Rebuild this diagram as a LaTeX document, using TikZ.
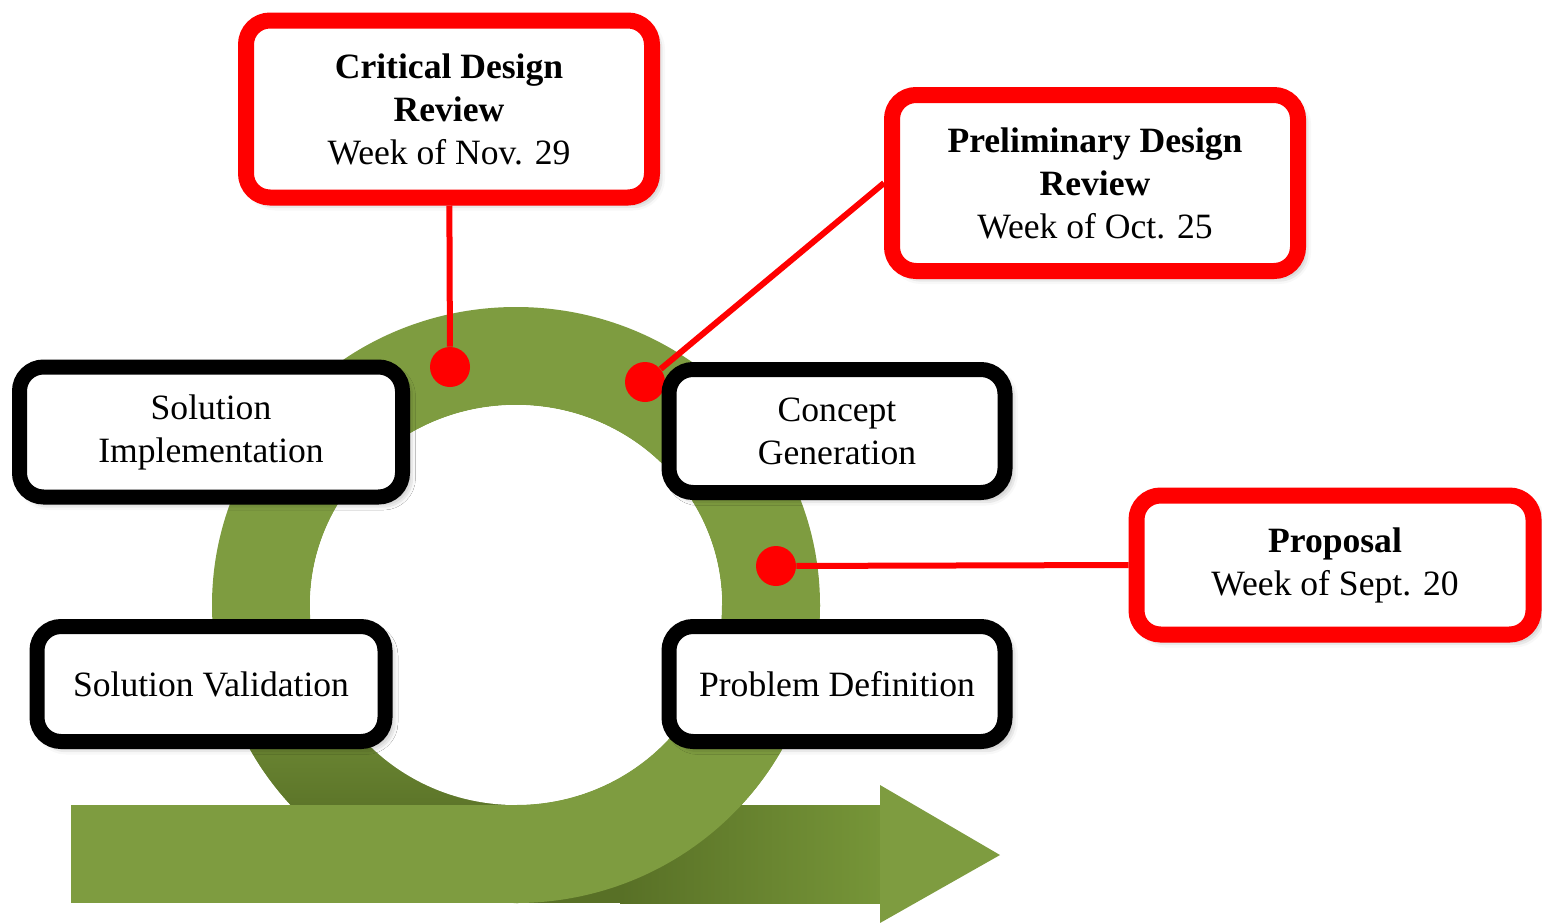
\documentclass[tikz,border=0pt]{standalone}
\usepackage{fontspec}
\setmainfont{Liberation Serif}
\usetikzlibrary{shadows.blur}
\definecolor{gring}{RGB}{126,156,64}
\definecolor{gdark}{RGB}{88,112,38}
\definecolor{gend}{RGB}{118,149,56}

\begin{document}
\begin{tikzpicture}[x=0.5pt, y=-0.5pt,
    phase/.style={draw=black, line width=7.5pt, fill=white, rounded corners=12pt,
        align=center, inner sep=0pt, font=\fontsize{17.8}{21.5}\selectfont,
        blur shadow={shadow xshift=2.5pt, shadow yshift=-2.5pt, shadow blur radius=4pt, shadow opacity=45}},
    milestone/.style={phase, draw=red, line width=8pt},
    reddot/.style={circle, fill=red, inner sep=0pt, minimum size=20pt},
    link/.style={red, line width=3pt}]
    \useasboundingbox (0,0) rectangle (1542,922);

    \fill[gring, even odd rule] (516,605) ellipse [x radius=304, y radius=298]
        (516,605) ellipse [x radius=206, y radius=200];
    \begin{scope}
        \clip (516,605) ellipse [x radius=304, y radius=298];
        \clip (200,640) rectangle (516,910);
        \shade[top color=gring, bottom color=gdark] (200,640) rectangle (516,830);
    \end{scope}
    \fill[white] (516,605) ellipse [x radius=206, y radius=200];

    \fill[gring] (71,805) rectangle (880,903);
    \fill[gdark] (516,805) rectangle (620,903);
    \shade[left color=gdark, right color=gend] (620,805) rectangle (880,903);
    \fill[gring] (880,785) -- (1000,855) -- (880,923) -- cycle;

    \begin{scope}
        \clip (516,605) rectangle (830,910);
        \fill[gring, even odd rule] (516,605) ellipse [x radius=304, y radius=298]
            (516,605) ellipse [x radius=206, y radius=200];
    \end{scope}

    \node[reddot] at (450,367) (d1) {};
    \node[reddot] at (645,382) (d2) {};
    \node[reddot] at (776,566) (d3) {};

    \node[phase, minimum width=191.5pt, minimum height=65pt] at (211,432) (impl) {Solution\\Implementation};
    \node[phase, minimum width=168pt, minimum height=61.5pt] at (837,431) (concept) {Concept\\Generation};
    \node[phase, minimum width=174pt, minimum height=57.5pt] at (211,684) (valid) {Solution Validation};
    \node[phase, minimum width=168pt, minimum height=57.5pt] at (837,684) (problem) {Problem Definition};

    \node[milestone, minimum width=203pt, minimum height=88.5pt] at (449,109) (cdr) {\textbf{Critical Design}\\\textbf{Review}\\Week of Nov. 29};
    \node[milestone, minimum width=203pt, minimum height=88pt] at (1095,183) (pdr) {\textbf{Preliminary Design}\\\textbf{Review}\\Week of Oct. 25};
    \node[milestone, minimum width=198.5pt, minimum height=69.5pt] at (1335,565) (prop) {\textbf{Proposal}\\Week of Sept. 20};

    \draw[link] (cdr) -- (d1);
    \draw[link] (d2) -- (pdr.west);
    \draw[link] (d3) -- (prop.west);

\end{tikzpicture}
\end{document}
